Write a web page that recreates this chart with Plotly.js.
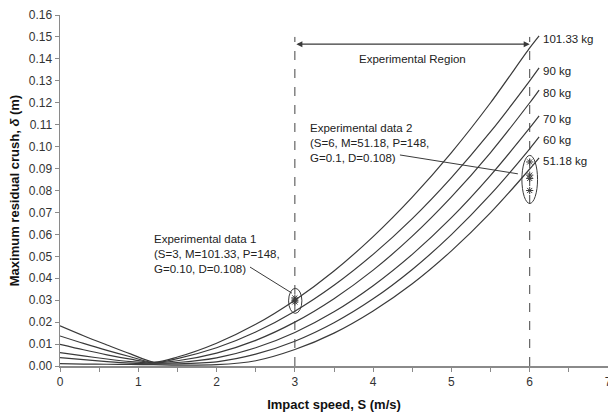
<!DOCTYPE html>
<html>
<head>
<meta charset="utf-8">
<script src="https://cdn.plot.ly/plotly-3.0.1.min.js"></script>
<style>html,body{margin:0;padding:0;background:#fff;}#chart{width:608px;height:419px;}</style>
</head>
<body>
<div id="chart"></div>
<script>
// Impact speed S (m/s)
const speeds = [0, 0.3, 0.6, 0.9, 1.2, 1.5, 2, 2.5, 3, 3.5, 4, 4.5, 5, 5.5, 6, 6.12];
// Maximum residual crush (m) per mass
const crush101 = [0.0183,0.0138,0.0096,0.0055,0.0018,0.0041,0.0104,0.0190,0.0300,0.0433,0.0590,0.0770,0.0973,0.1200,0.1450,0.1505];
const crush90  = [0.0137,0.0103,0.0071,0.0042,0.0016,0.0034,0.0083,0.0155,0.0250,0.0368,0.0509,0.0672,0.0859,0.1068,0.1300,0.1359];
const crush80  = [0.0099,0.0074,0.0051,0.0031,0.0015,0.0024,0.0059,0.0117,0.0200,0.0307,0.0437,0.0592,0.0771,0.0973,0.1200,0.1258];
const crush70  = [0.0061,0.0046,0.0032,0.0020,0.0013,0.0016,0.0037,0.0083,0.0153,0.0247,0.0366,0.0509,0.0676,0.0869,0.1085,0.1140];
const crush60  = [0.0038,0.0029,0.0020,0.0013,0.0010,0.0010,0.0019,0.0054,0.0113,0.0197,0.0306,0.0440,0.0599,0.0782,0.0990,0.1044];
const crush51  = [0.0011,0.0009,0.0008,0.0007,0.0006,0.0004,0.0006,0.0024,0.0075,0.0150,0.0251,0.0375,0.0525,0.0699,0.0898,0.0949];
const massLabels = ['101.33 kg','90 kg','80 kg','70 kg','60 kg','51.18 kg'];

// Experimental points
const exp1Speed = [3, 3, 3];
const exp1Crush = [0.0310, 0.0300, 0.0292];
const exp2Speed = [6, 6, 6, 6];
const exp2Crush = [0.0930, 0.0870, 0.0855, 0.0800];

const xTickVals = [0,1,2,3,4,5,6,7];

const series = [crush101, crush90, crush80, crush70, crush60, crush51];
const lineColor = '#3a3a3a';
const axisColor = '#8a8a8a';
const font = 'Liberation Sans, Arial, sans-serif';

const traces = series.map((ys, i) => ({
  x: speeds, y: ys, type: 'scatter', mode: 'lines', name: massLabels[i],
  line: {color: lineColor, width: 1.2, shape: 'spline', smoothing: 0.8},
  hoverinfo: 'skip', cliponaxis: false
}));
traces.push({x: exp1Speed, y: exp1Crush, type: 'scatter', mode: 'markers',
  marker: {symbol: 'asterisk-open', size: 6, color: lineColor, line: {color: lineColor, width: 1}}});
traces.push({x: exp2Speed, y: exp2Crush, type: 'scatter', mode: 'markers',
  marker: {symbol: 'asterisk-open', size: 6, color: lineColor, line: {color: lineColor, width: 1}}});

const annotations = series.map((ys, i) => ({
  x: speeds[speeds.length - 1], y: ys[ys.length - 1], xref: 'x', yref: 'y',
  text: massLabels[i], showarrow: false, xanchor: 'left', yanchor: 'middle',
  xshift: 2, yshift: -3, font: {family: font, size: 11.5, color: '#222'}
}));
annotations.push({x: 6, y: 0.1467, ax: 3, ay: 0.1467, xref: 'x', yref: 'y', axref: 'x', ayref: 'y',
  text: '', showarrow: true, arrowside: 'end+start', arrowhead: 2, arrowsize: 1, arrowwidth: 1.2,
  arrowcolor: lineColor, standoff: 0, startstandoff: 0});
annotations.push({x: 4.5, y: 0.1400, xref: 'x', yref: 'y', text: 'Experimental Region', showarrow: false,
  font: {family: font, size: 11.5, color: '#222'}});
annotations.push({x: 3.17, y: 0.1015, xref: 'x', yref: 'y', xanchor: 'left', yanchor: 'middle', align: 'left',
  text: 'Experimental data 2<br>(S=6, M=51.18, P=148,<br>G=0.1, D=0.108)', showarrow: false,
  font: {family: font, size: 11.5, color: '#222'}});
annotations.push({x: 1.17, y: 0.0510, xref: 'x', yref: 'y', xanchor: 'left', yanchor: 'middle', align: 'left',
  text: 'Experimental data 1<br>(S=3, M=101.33, P=148,<br>G=0.10, D=0.108)', showarrow: false,
  font: {family: font, size: 11.5, color: '#222'}});

const shapes = [
  {type: 'line', xref: 'x', yref: 'y', x0: 3, x1: 3, y0: 0, y1: 0.150, line: {color: '#444', width: 1, dash: 'dash'}},
  {type: 'line', xref: 'x', yref: 'y', x0: 6, x1: 6, y0: 0, y1: 0.150, line: {color: '#444', width: 1, dash: 'dash'}},
  {type: 'line', xref: 'x', yref: 'y', x0: 4.342, y0: 0.0962, x1: 5.849, y1: 0.0876, line: {color: lineColor, width: 1}},
  {type: 'line', xref: 'x', yref: 'y', x0: 2.427, y0: 0.0451, x1: 2.963, y1: 0.0332, line: {color: lineColor, width: 1}},
  {type: 'circle', xref: 'x', yref: 'y', x0: 2.92, x1: 3.09, y0: 0.0240, y1: 0.0354, line: {color: lineColor, width: 1}},
  {type: 'circle', xref: 'x', yref: 'y', x0: 5.90, x1: 6.10, y0: 0.0741, y1: 0.0960, line: {color: lineColor, width: 1}}
];

const layout = {
  width: 608, height: 419,
  margin: {l: 60, r: 0, t: 15, b: 53, pad: 0},
  paper_bgcolor: '#fff', plot_bgcolor: '#fff',
  showlegend: false,
  font: {family: font, size: 12, color: '#333'},
  xaxis: {
    range: [0, 7], tickvals: xTickVals, ticktext: xTickVals.map(String),
    ticks: 'outside', ticklen: 4, tickcolor: axisColor, tickwidth: 1,
    ticklabeloverflow: 'allow',
    minor: {dtick: 0.5, ticks: 'outside', ticklen: 4, tickcolor: axisColor},
    showline: true, linecolor: axisColor, linewidth: 1.5,
    showgrid: false, zeroline: false,
    tickfont: {family: font, size: 12, color: '#333'},
    title: {text: 'Impact speed, S (m/s)', standoff: 12, font: {family: font, size: 13, color: '#111', weight: 'bold'}}
  },
  yaxis: {
    range: [0, 0.16], dtick: 0.01, tickformat: '.2f',
    ticks: 'outside', ticklen: 4, tickcolor: axisColor, tickwidth: 1,
    showline: true, linecolor: axisColor, linewidth: 1.5,
    showgrid: false, zeroline: false,
    tickfont: {family: font, size: 12, color: '#333'},
    title: {text: 'Maximum residual crush, <i>δ</i> (m)', standoff: 6, font: {family: font, size: 13, color: '#111', weight: 'bold'}}
  },
  annotations: annotations,
  shapes: shapes
};

Plotly.newPlot('chart', traces, layout, {staticPlot: true, displayModeBar: false});
</script>
</body>
</html>
